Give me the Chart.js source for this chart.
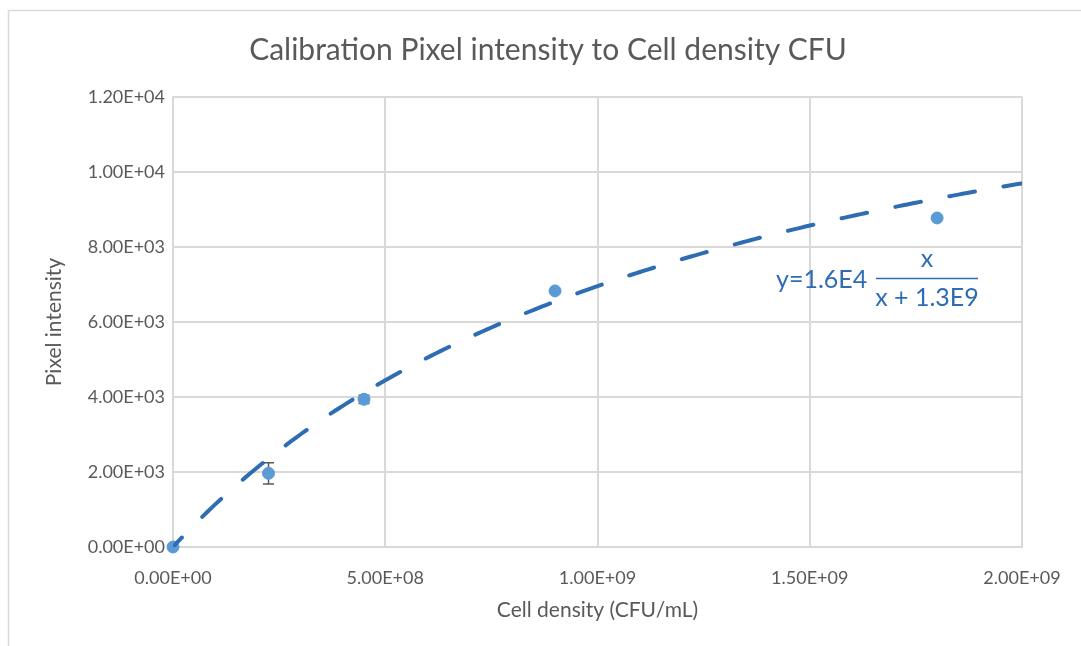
<!DOCTYPE html>
<html>
<head>
<meta charset="utf-8">
<title>Calibration</title>
<script src="https://cdn.jsdelivr.net/npm/chart.js@4/dist/chart.umd.min.js"></script>
<style>
  html, body { margin: 0; padding: 0; background: #fff; }
  #wrap { width: 1081px; height: 646px; position: relative; }
</style>
</head>
<body>
<div id="wrap"><canvas id="calibChart" width="1081" height="646"></canvas></div>
<script>
// measured points
const cellDensity = [0, 2.25e8, 4.5e8, 9.0e8, 1.8e9];
const pixelIntensity = [0, 1965, 3940, 6830, 8775];
const intensityError = [0, 285, 110, 0, 0];

// axis ticks
const xTickValues = [0, 5e8, 1e9, 1.5e9, 2e9];
const xTickLabels = ["0.00E+00", "5.00E+08", "1.00E+09", "1.50E+09", "2.00E+09"];
const yTickValues = [0, 2000, 4000, 6000, 8000, 10000, 12000];
const yTickLabels = ["0.00E+00", "2.00E+03", "4.00E+03", "6.00E+03", "8.00E+03", "1.00E+04", "1.20E+04"];

// saturation fit  y = A * x / (x + K)
const fitA = 1.6e4;
const fitK = 1.3e9;
const fitText = ["y=1.6E4", "x", "x + 1.3E9"];

const titleText = "Calibration Pixel intensity to Cell density CFU";

const fitCurve = [];
for (let i = 0; i <= 200; i++) {
    const x = (2e9 * i) / 200;
    fitCurve.push({ x, y: (fitA * x) / (x + fitK) });
}

const FONT = "Lato, 'Open Sans', sans-serif";
const GREY = "#595959";
const FIT_BLUE = "#2e6db4";

// white page, outer frame and the centred title
const frame = {
    id: "frame",
    beforeDraw(chart) {
        const ctx = chart.ctx;
        ctx.save();
        ctx.fillStyle = "#fff";
        ctx.fillRect(0, 0, chart.width, chart.height);
        ctx.strokeStyle = "#d9d9d9";
        ctx.lineWidth = 1.5;
        ctx.beginPath();
        ctx.moveTo(8.5, chart.height + 2);
        ctx.lineTo(8.5, 10.5);
        ctx.lineTo(chart.width + 2, 10.5);
        ctx.stroke();
        ctx.fillStyle = GREY;
        ctx.font = `30px ${FONT}`;
        ctx.textAlign = "center";
        ctx.textBaseline = "alphabetic";
        ctx.fillText(titleText, 548, 60);
        ctx.restore();
    },
};

const errorBars = {
    id: "errorBars",
    beforeDatasetsDraw(chart) {
        const { ctx, scales } = chart;
        ctx.save();
        ctx.strokeStyle = GREY;
        ctx.lineWidth = 1.5;
        cellDensity.forEach((x, i) => {
            const err = intensityError[i];
            if (!err) return;
            const px = scales.x.getPixelForValue(x);
            const top = scales.y.getPixelForValue(pixelIntensity[i] + err);
            const bot = scales.y.getPixelForValue(pixelIntensity[i] - err);
            ctx.beginPath();
            ctx.moveTo(px, top);
            ctx.lineTo(px, bot);
            ctx.moveTo(px - 5.5, top);
            ctx.lineTo(px + 5.5, top);
            ctx.moveTo(px - 5.5, bot);
            ctx.lineTo(px + 5.5, bot);
            ctx.stroke();
        });
        ctx.restore();
    },
};

const fitLabel = {
    id: "fitLabel",
    afterDatasetsDraw(chart) {
        const ctx = chart.ctx;
        ctx.save();
        ctx.fillStyle = FIT_BLUE;
        ctx.strokeStyle = FIT_BLUE;
        ctx.font = `25px ${FONT}`;
        ctx.textBaseline = "middle";
        ctx.textAlign = "left";
        ctx.fillText(fitText[0], 776, 280);
        ctx.textAlign = "center";
        ctx.fillText(fitText[1], 927, 259);
        ctx.fillText(fitText[2], 927, 298);
        ctx.lineWidth = 1.5;
        ctx.beginPath();
        ctx.moveTo(876, 278.5);
        ctx.lineTo(978, 278.5);
        ctx.stroke();
        ctx.restore();
    },
};

new Chart(document.getElementById("calibChart"), {
    type: "scatter",
    data: {
        datasets: [
            {
                label: "Fit",
                data: fitCurve,
                showLine: true,
                borderColor: FIT_BLUE,
                borderWidth: 4,
                borderDash: [26, 29],
                borderDashOffset: 13,
                borderCapStyle: "round",
                pointRadius: 0,
                tension: 0,
                order: 0,
            },
            {
                label: "Calibration",
                data: cellDensity.map((x, i) => ({ x, y: pixelIntensity[i] })),
                backgroundColor: "#5b9bd5",
                borderColor: "#5b9bd5",
                pointRadius: 6,
                pointHoverRadius: 6,
                clip: false,
                order: 1,
            },
        ],
    },
    options: {
        responsive: false,
        animation: false,
        layout: { padding: { left: 0, right: 59, top: 97, bottom: 0 } },
        plugins: {
            legend: { display: false },
            tooltip: { enabled: false },
            title: { display: false },
        },
        scales: {
            x: {
                type: "linear",
                min: 0,
                max: 2e9,
                afterFit(scale) { scale.height = 99; },
                afterBuildTicks(scale) { scale.ticks = xTickValues.map((value) => ({ value })); },
                ticks: {
                    color: GREY,
                    font: { family: FONT, size: 18 },
                    padding: 20,
                    maxRotation: 0,
                    callback: (v) => xTickLabels[xTickValues.indexOf(v)],
                },
                grid: { color: "#d9d9d9", lineWidth: 2, drawTicks: false },
                border: { color: "#d9d9d9", width: 2 },
                title: {
                    display: true,
                    text: "Cell density (CFU/mL)",
                    color: GREY,
                    font: { family: FONT, size: 21 },
                    padding: { top: 0, bottom: 23 },
                },
            },
            y: {
                type: "linear",
                min: 0,
                max: 12000,
                afterFit(scale) { scale.width = 173; },
                afterBuildTicks(scale) { scale.ticks = yTickValues.map((value) => ({ value })); },
                ticks: {
                    color: GREY,
                    font: { family: FONT, size: 18 },
                    padding: 8,
                    callback: (v) => yTickLabels[yTickValues.indexOf(v)],
                },
                grid: { color: "#d9d9d9", lineWidth: 2, drawTicks: false },
                border: { color: "#d9d9d9", width: 2 },
                title: {
                    display: true,
                    text: "Pixel intensity",
                    color: GREY,
                    font: { family: FONT, size: 21 },
                    padding: { top: 42, bottom: 0 },
                },
            },
        },
    },
    plugins: [frame, errorBars, fitLabel],
});
</script>
</body>
</html>
